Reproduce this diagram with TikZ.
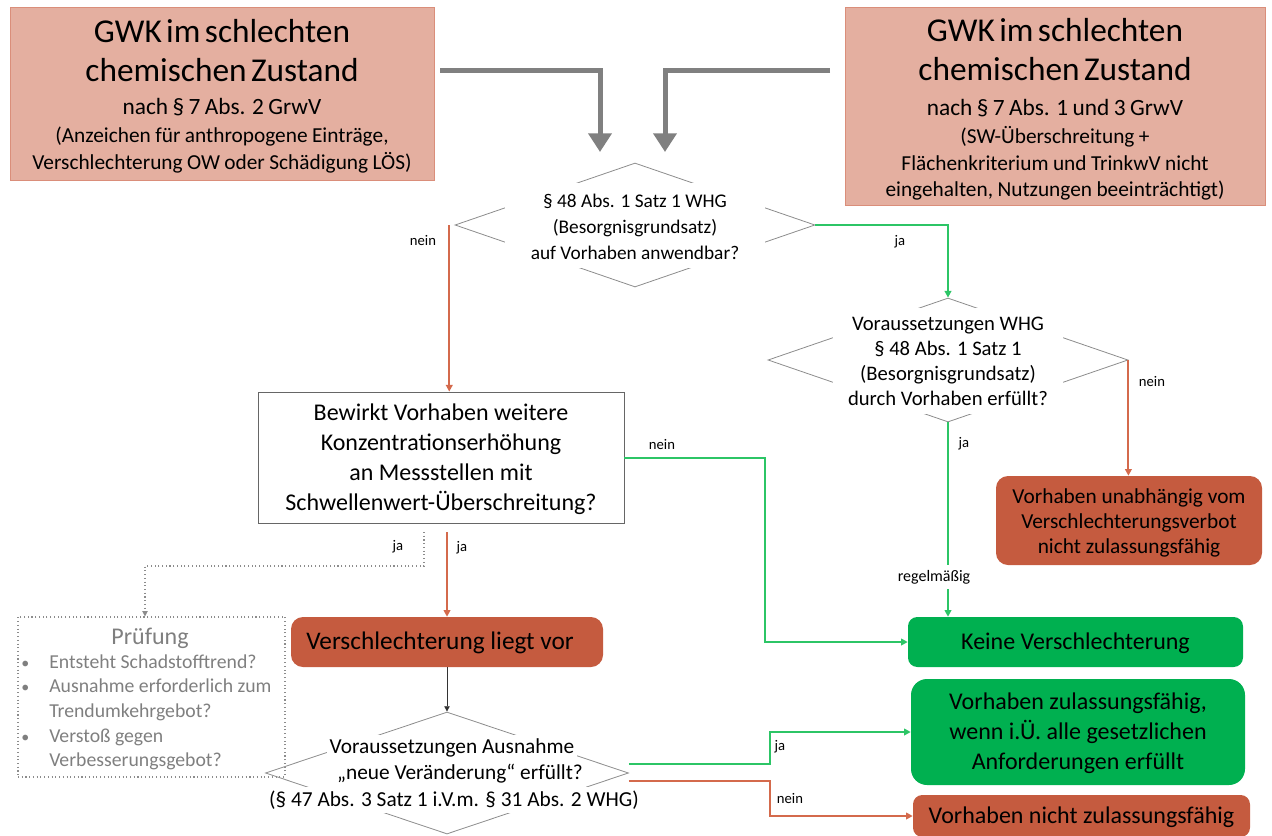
\documentclass[tikz,border=0pt]{standalone}
\usepackage{fontspec}
\setmainfont{Carlito}
\usetikzlibrary{arrows.meta,shapes.geometric,calc}
\definecolor{salfill}{HTML}{E4AFA0}
\definecolor{salline}{HTML}{DA8E7A}
\definecolor{redfill}{HTML}{C55B3F}
\definecolor{grnfill}{HTML}{00B050}
\definecolor{redline}{HTML}{D46A4C}
\definecolor{grnline}{HTML}{2CC566}
\definecolor{arrgray}{HTML}{808080}
\definecolor{diagray}{HTML}{8C8C8C}
\definecolor{txtgray}{HTML}{7F7F7F}
\newcommand{\txtline}[3]{{\fontsize{#1}{#2}\selectfont #3\par}}
\newcommand{\smallbul}{{\fontsize{12}{12}\selectfont\textbullet}}
\begin{document}
\begin{tikzpicture}[x=0.75pt,y=-0.75pt,
  salbox/.style={draw=salline, fill=salfill, line width=0.6pt, inner sep=0pt},
  redbox/.style={fill=redfill, draw=none, rounded corners=9pt, inner sep=0pt},
  grnbox/.style={fill=grnfill, draw=none, rounded corners=9pt, inner sep=0pt},
  dia/.style={diamond, draw=diagray, line width=0.6pt, inner sep=0pt},
  wbg/.style={fill=white, draw=none, inner sep=0pt},
  txt/.style={align=center, inner sep=0pt},
  lbl/.style={inner sep=0pt, font=\fontsize{11}{13}\selectfont},
  bigarr/.style={draw=arrgray, line width=3.75pt, -{Triangle[width=17pt,length=14pt]}},
  redarr/.style={draw=redline, line width=1.5pt, -{Triangle[width=5pt,length=5pt]}},
  grnarr/.style={draw=grnline, line width=1.5pt, -{Triangle[width=5pt,length=5pt]}},
  dotarr/.style={draw=diagray, line width=0.8pt, dotted, -{Triangle[width=4pt,length=4pt]}},
  blkarr/.style={draw=black!80, line width=0.6pt, -{Triangle[width=4pt,length=4pt]}}
]
\useasboundingbox (0,0) rectangle (1272,836);

% top boxes
\node[salbox, minimum width=318pt, minimum height=129.75pt] (tl) at (222,93.5) {};
\node[txt, text width=318pt] (tlt) at (222,96) {%
\txtline{25}{29.25}{GWK im schlechten}%
\txtline{25}{29.25}{chemischen Zustand}%
\txtline{17.5}{24.75}{nach § 7 Abs. 2 GrwV}%
\txtline{16}{21}{(Anzeichen für anthropogene Einträge,}%
\txtline{16}{20.25}{Verschlechterung OW oder Schädigung LÖS)}};

\node[salbox, minimum width=315pt, minimum height=148.5pt] (tr) at (1055,106) {};
\node[txt, text width=315pt] (trt) at (1055,109.5) {%
\txtline{25}{29.25}{GWK im schlechten}%
\txtline{25}{29.25}{chemischen Zustand}%
\txtline{17.5}{26.25}{nach § 7 Abs. 1 und 3 GrwV}%
\txtline{16}{21}{(SW-Überschreitung +}%
\txtline{16}{20.25}{Flächenkriterium und TrinkwV nicht}%
\txtline{16}{19.5}{eingehalten, Nutzungen beeinträchtigt)}};

% diamond 1
\node[dia, minimum width=270pt, minimum height=93pt] (d1) at (635,225) {};
\node[wbg, minimum width=195pt, minimum height=63.75pt] (d1w) at (635,225.5) {};
\node[txt, font=\fontsize{14.5}{19.5}\selectfont] (d1t) at (635,227) {§ 48 Abs. 1 Satz 1 WHG\\(Besorgnisgrundsatz)\\auf Vorhaben anwendbar?};

% diamond 2
\node[dia, minimum width=270pt, minimum height=93pt] (d2) at (948,360) {};
\node[wbg, minimum width=172.5pt, minimum height=79.5pt] (d2w) at (948,361) {};
\node[txt, font=\fontsize{15.5}{18.75}\selectfont] (d2t) at (948,361) {Voraussetzungen WHG\\§ 48 Abs. 1 Satz 1\\(Besorgnisgrundsatz)\\durch Vorhaben erfüllt?};

% question box
\node[draw=black!60, line width=0.6pt, fill=white, minimum width=274.5pt, minimum height=98.25pt, inner sep=0pt] (b1) at (441,457.5) {};
\node[txt, font=\fontsize{18}{22.5}\selectfont] (b1t) at (441,459) {Bewirkt Vorhaben weitere\\Konzentrationserhöhung\\an Messstellen mit\\Schwellenwert-Überschreitung?};

% result boxes right
\node[redbox, minimum width=199.5pt, minimum height=66.75pt] (unab) at (1129,520.5) {};
\node[txt, font=\fontsize{16}{19}\selectfont] (unabt) at (1129,523) {Vorhaben unabhängig vom\\Verschlechterungsverbot\\nicht zulassungsfähig};

\node[grnbox, rounded corners=7pt, minimum width=251.25pt, minimum height=37.5pt] (keine) at (1075.5,642) {};
\node[txt, font=\fontsize{18}{22}\selectfont] (keinet) at (1075.5,643) {Keine Verschlechterung};

\node[grnbox, rounded corners=12pt, minimum width=250.5pt, minimum height=79.5pt] (zul) at (1078,732) {};
\node[txt, font=\fontsize{18}{22.5}\selectfont] (zult) at (1078,733) {Vorhaben zulassungsfähig,\\wenn i.Ü. alle gesetzlichen\\Anforderungen erfüllt};

\node[redbox, rounded corners=7pt, minimum width=252.75pt, minimum height=31.5pt] (nicht) at (1081.5,816) {};
\node[txt, font=\fontsize{18}{22}\selectfont] (nichtt) at (1081.5,817) {Vorhaben nicht zulassungsfähig};

% Verschlechterung liegt vor
\node[redbox, minimum width=234pt, minimum height=37.5pt] (ver) at (447,642) {};
\node[txt, anchor=west, font=\fontsize{19}{22}\selectfont] (vert) at (306,643) {Verschlechterung liegt vor};

% Pruefung box
\node[draw=diagray, dotted, line width=0.8pt, minimum width=200.25pt, minimum height=120pt, inner sep=0pt] (pruef) at (151.5,697) {};
\node[txt, text=txtgray, font=\fontsize{18}{22}\selectfont] (prueft) at (150,638) {Prüfung};
\node[inner sep=0pt, anchor=north west, text=txtgray, font=\fontsize{14.8}{18.4}\selectfont] (pliste) at (21,651) {%
\begin{tabular}{@{}l@{}l@{}}
\makebox[21pt][l]{\smallbul} & Entsteht Schadstofftrend?\\
\smallbul & Ausnahme erforderlich zum\\
 & Trendumkehrgebot?\\
\smallbul & Verstoß gegen\\
 & Verbesserungsgebot?
\end{tabular}};

% diamond 3
\node[dia, minimum width=272.25pt, minimum height=91.5pt] (d3) at (447,773) {};
\node[txt, fill=white, inner xsep=2pt, inner ysep=3pt, font=\fontsize{16}{19.5}\selectfont] (d3a) at (452,748) {Voraussetzungen Ausnahme};
\node[txt, fill=white, inner xsep=2pt, inner ysep=3pt, font=\fontsize{16}{19.5}\selectfont] (d3b) at (460,774) {„neue Veränderung“ erfüllt?};
\node[txt, fill=white, inner xsep=2pt, inner ysep=3pt, font=\fontsize{16}{19.5}\selectfont] (d3c) at (454,800) {(§ 47 Abs. 3 Satz 1 i.V.m. § 31 Abs. 2 WHG)};

% coordinates
\coordinate (a1s) at (440,70);
\coordinate (a1e) at (600,152);
\coordinate (a2s) at (830,70);
\coordinate (a2e) at (665,152);
\coordinate (rs) at (447,532);
\coordinate (ds) at (424,532);
\coordinate (dk) at (145,566);
\coordinate (gk) at (765,0);
\coordinate (hk) at (770,0);

% big gray arrows
\draw[bigarr] (a1s) -| (a1e);
\draw[bigarr] (a2s) -| (a2e);

% connectors
\draw[redarr] ([xshift=-4pt]d1.west) -- ([xshift=-4pt]d1.west |- b1.north);
\draw[grnarr] (d1.east) -| (d2.north);
\draw[redarr] (d2.east) -- (d2.east |- unab.north);
\draw[grnarr] (d2.south) -- (d2.south |- keine.north);
\draw[grnarr] (b1.east) -| (gk |- keine.west) -- (keine.west);
\draw[redarr] (rs) -- (rs |- ver.north);
\draw[dotarr] (ds) |- (dk) -- (dk |- pruef.north);
\draw[blkarr] (ver.south) -- (d3.north);
\draw[grnarr] ([yshift=6.75pt]d3.east) -| (hk |- zul.west) -- (zul.west);
\draw[redarr] ([yshift=-6pt]d3.east) -| (hk |- nicht.west) -- (nicht.west);

% labels
\node[lbl] (l1) at (423,241) {nein};
\node[lbl] (l2) at (900,242) {ja};
\node[lbl] (l3) at (1152,381) {nein};
\node[lbl] (l4) at (964,444) {ja};
\node[lbl] (l5) at (662,444) {nein};
\node[lbl] (l6) at (398,547) {ja};
\node[lbl] (l7) at (462,548) {ja};
\node[lbl] (l8) at (780,747) {ja};
\node[lbl] (l9) at (790,798) {nein};
\node[fill=white, inner xsep=1pt, inner ysep=4pt, font=\fontsize{12}{14}\selectfont] (regel) at (934,577) {regelmäßig};
\end{tikzpicture}
\end{document}
